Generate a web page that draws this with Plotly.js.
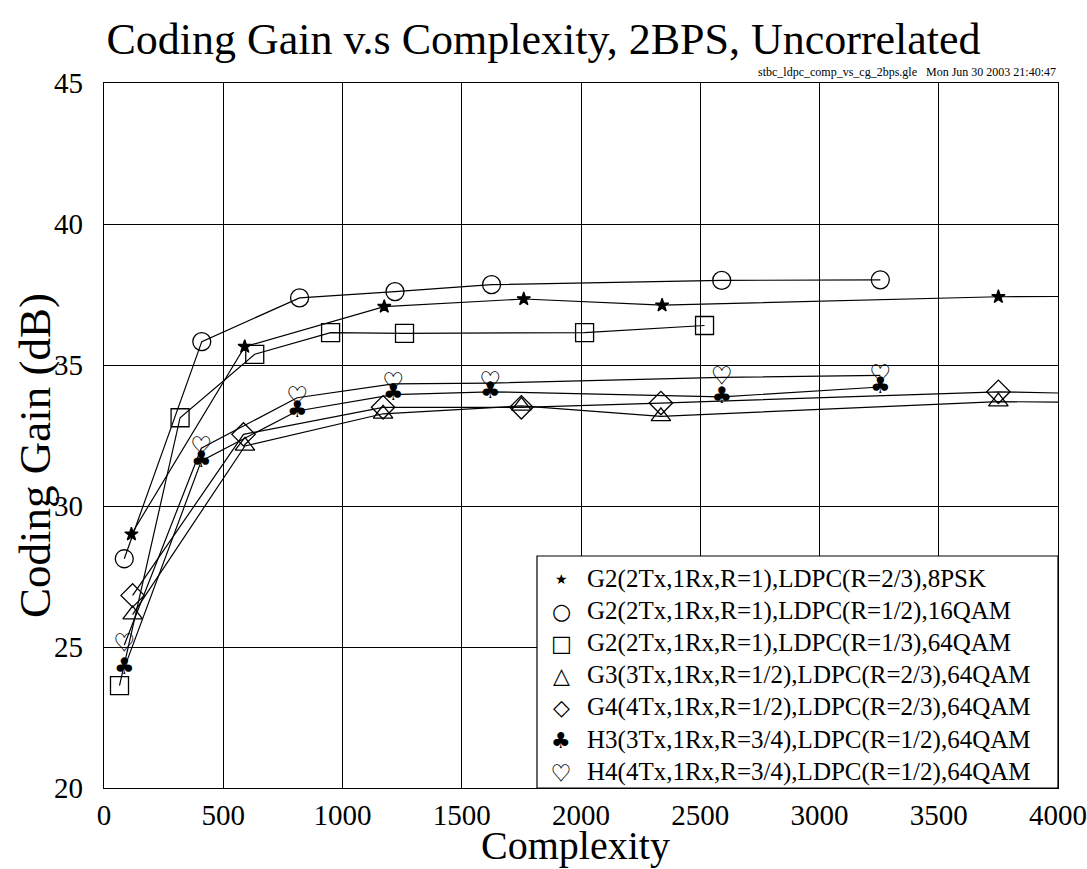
<!DOCTYPE html>
<html>
<head>
<meta charset="utf-8">
<script src="https://cdn.plot.ly/plotly-3.0.1.min.js"></script>
<style>html,body{margin:0;padding:0;background:#fff;}#chart{width:1087px;height:869px;}</style>
</head>
<body>
<div id="chart"></div>
<script>
// ---- data ----
const seriesNames = [
  "G2(2Tx,1Rx,R=1),LDPC(R=2/3),8PSK",
  "G2(2Tx,1Rx,R=1),LDPC(R=1/2),16QAM",
  "G2(2Tx,1Rx,R=1),LDPC(R=1/3),64QAM",
  "G3(3Tx,1Rx,R=1/2),LDPC(R=2/3),64QAM",
  "G4(4Tx,1Rx,R=1/2),LDPC(R=2/3),64QAM",
  "H3(3Tx,1Rx,R=3/4),LDPC(R=1/2),64QAM",
  "H4(4Tx,1Rx,R=3/4),LDPC(R=1/2),64QAM"
];
const legendGlyphs = ["\u2605", "\u25CB", "\u25A1", "\u25B3", "\u25C7", "\u2663", "\u2661"];

const cxG2_8PSK  = [115, 590, 1175, 1760, 2340, 3750, 4500];
const cgG2_8PSK  = [29.0, 35.65, 37.07, 37.34, 37.12, 37.42, 37.45];

const cxG2_16QAM = [85, 410, 820, 1220, 1625, 2590, 3255];
const cgG2_16QAM = [28.13, 35.83, 37.38, 37.6, 37.85, 38.0, 38.02];

const cxG2_64QAM = [65, 319, 632, 950, 1260, 2015, 2518];
const cgG2_64QAM = [23.63, 33.13, 35.38, 36.15, 36.12, 36.15, 36.4];

const cxG3 = [120, 591, 1170, 1750, 2335, 3750, 4500];
const cgG3 = [26.15, 32.13, 33.27, 33.55, 33.18, 33.7, 33.66];

const cxG4 = [120, 585, 1170, 1750, 2335, 3750, 4500];
const cgG4 = [26.83, 32.54, 33.5, 33.5, 33.65, 34.05, 33.92];

const cxH3 = [85, 408, 810, 1213, 1620, 2590, 3255];
const cgH3 = [24.25, 31.6, 33.37, 33.95, 34.05, 33.87, 34.22];

const cxH4 = [85, 408, 810, 1213, 1620, 2590, 3255];
const cgH4 = [25.07, 32.05, 33.84, 34.33, 34.36, 34.56, 34.63];

const xTicks = [0, 500, 1000, 1500, 2000, 2500, 3000, 3500, 4000];
const yTicks = [20, 25, 30, 35, 40, 45];

const titleText = "Coding Gain v.s Complexity, 2BPS, Uncorrelated";
const xTitleText = "Complexity";
const yTitleText = "Coding Gain (dB)";
const stampText = "stbc_ldpc_comp_vs_cg_2bps.gle   Mon Jun 30 2003 21:40:47";

// ---- traces ----
const serif = "Liberation Serif, Times New Roman, serif";
const symFont = "Noto Sans CJK JP, DejaVu Sans";
const line = {color: "black", width: 1.2};
function mk(x, y, symbol, size) {
  return {x: x, y: y, type: "scatter", mode: "lines+markers", line: line,
    marker: {symbol: symbol, size: size, color: "black",
             line: {color: "black", width: 1.3}},
    showlegend: false, hoverinfo: "skip", cliponaxis: true};
}
function mkText(x, y, glyph, size, family) {
  return {x: x, y: y, type: "scatter", mode: "lines+text", line: line,
    text: x.map(() => glyph), textposition: "middle center",
    textfont: {family: family, size: size, color: "black"},
    showlegend: false, hoverinfo: "skip", cliponaxis: true};
}
const traces = [
  mk(cxG2_8PSK, cgG2_8PSK, "star", 10),
  mk(cxG2_16QAM, cgG2_16QAM, "circle-open", 18),
  mk(cxG2_64QAM, cgG2_64QAM, "square-open", 18),
  mk(cxG3, cgG3, "triangle-up-open", 17),
  mk(cxG4, cgG4, "diamond-open", 18),
  mkText(cxH3, cgH3, "\u2663", 23, "DejaVu Sans"),
  mkText(cxH4, cgH4, "\u2661", 21, symFont)
];

// ---- custom legend (box + rows) ----
const L = 104, R = 1058, T = 83, B = 788;
const px2x = p => (p - L) / (R - L);
const py2y = p => (B - p) / (B - T);
const rowY = [579, 611, 643, 675, 707, 740, 772];
const annotations = [];
seriesNames.forEach((n, i) => {
  annotations.push({xref: "paper", yref: "paper", x: px2x(561), y: py2y(rowY[i]),
    text: legendGlyphs[i], showarrow: false, xanchor: "center", yanchor: "middle",
    font: {family: i === 6 ? symFont : "DejaVu Sans", size: i === 0 ? 14 : (i === 6 ? 20 : 22), color: "black"}});
  annotations.push({xref: "paper", yref: "paper", x: px2x(585), y: py2y(rowY[i]),
    text: n, showarrow: false, xanchor: "left", yanchor: "middle",
    font: {family: serif, size: 25, color: "black"}});
});
annotations.push({xref: "paper", yref: "paper", x: 1, y: py2y(72), text: stampText,
  showarrow: false, xanchor: "right", yanchor: "middle",
  font: {family: serif, size: 12, color: "black"}});
annotations.push({xref: "paper", yref: "paper", x: px2x(575), y: py2y(846), text: xTitleText,
  showarrow: false, xanchor: "center", yanchor: "middle",
  font: {family: serif, size: 40, color: "black"}});
annotations.push({xref: "paper", yref: "paper", x: px2x(35), y: py2y(456), text: yTitleText,
  showarrow: false, xanchor: "center", yanchor: "middle", textangle: -90,
  font: {family: serif, size: 45, color: "black"}});

const shapes = [{type: "rect", xref: "paper", yref: "paper",
  x0: px2x(537), x1: 1, y0: 0, y1: py2y(556),
  line: {color: "black", width: 1.2}, fillcolor: "white", layer: "above"}];

const layout = {
  width: 1087, height: 869,
  margin: {l: L, r: 1087 - R, t: T, b: 869 - B, pad: 0},
  paper_bgcolor: "white", plot_bgcolor: "white",
  font: {family: serif, color: "black"},
  title: {text: titleText, font: {family: serif, size: 44, color: "black"},
          x: 0.5, xref: "container", xanchor: "center", y: 0.956, yanchor: "middle"},
  xaxis: {range: [0, 4000], tickvals: xTicks, ticktext: xTicks.map(String),
    showgrid: true, gridcolor: "black", gridwidth: 1, zeroline: false,
    showline: true, linecolor: "black", linewidth: 1.2, mirror: true,
    ticks: "", ticklabelstandoff: 1,
    tickfont: {family: serif, size: 29, color: "black"}},
  yaxis: {range: [20, 45], tickvals: yTicks, ticktext: yTicks.map(String),
    showgrid: true, gridcolor: "black", gridwidth: 1, zeroline: false,
    showline: true, linecolor: "black", linewidth: 1.2, mirror: true,
    ticks: "", ticklabelstandoff: 14,
    tickfont: {family: serif, size: 29, color: "black"}},
  annotations: annotations,
  shapes: shapes
};

Plotly.newPlot("chart", traces, layout, {displayModeBar: false, staticPlot: true});
</script>
</body>
</html>
